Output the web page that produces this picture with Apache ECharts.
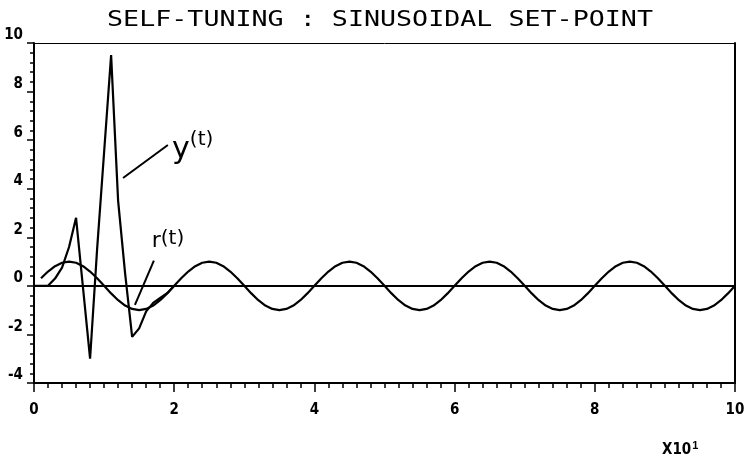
<!DOCTYPE html>
<html><head><meta charset="utf-8">
<script src="https://cdn.jsdelivr.net/npm/echarts@6/dist/echarts.min.js"></script>
<style>html,body{margin:0;padding:0;background:#fff}#c{width:750px;height:465px}</style>
</head><body><div id="c"></div>
<script>
// ---- data ----
const titleText = 'SELF-TUNING : SINUSOIDAL SET-POINT';
const xTickLabels = ['0', '2', '4', '6', '8', '10'];
const yTickLabels = ['-4', '-2', '0', '2', '4', '6', '8', '10'];
const xScaleNote = 'X10';
const xScaleExp = '1';
// set-point r(t), sampled every time unit from t = 1 to t = 100 (axis is in units of 10)
const rStartTime = 1;
const rValues = [
  0.31, 0.59, 0.81, 0.95, 1.00, 0.95, 0.81, 0.59, 0.31, 0.00,
  -0.31, -0.59, -0.81, -0.95, -1.00, -0.95, -0.81, -0.59, -0.31, 0.00,
  0.31, 0.59, 0.81, 0.95, 1.00, 0.95, 0.81, 0.59, 0.31, 0.00,
  -0.31, -0.59, -0.81, -0.95, -1.00, -0.95, -0.81, -0.59, -0.31, 0.00,
  0.31, 0.59, 0.81, 0.95, 1.00, 0.95, 0.81, 0.59, 0.31, 0.00,
  -0.31, -0.59, -0.81, -0.95, -1.00, -0.95, -0.81, -0.59, -0.31, 0.00,
  0.31, 0.59, 0.81, 0.95, 1.00, 0.95, 0.81, 0.59, 0.31, 0.00,
  -0.31, -0.59, -0.81, -0.95, -1.00, -0.95, -0.81, -0.59, -0.31, 0.00,
  0.31, 0.59, 0.81, 0.95, 1.00, 0.95, 0.81, 0.59, 0.31, 0.00,
  -0.31, -0.59, -0.81, -0.95, -1.00, -0.95, -0.81, -0.59, -0.31, 0.00
];
// output y(t) during the start-up transient (afterwards it lies on r(t))
const yTimes  = [0, 1, 2, 3, 4, 5, 6, 7, 8, 9, 10, 11, 12, 13, 14, 15, 16, 17, 18, 19, 20];
const yValues = [0, 0, 0, 0.3, 0.75, 1.6, 2.8, -0.1, -3.0, 1.5, 5.5, 9.5, 3.5, 0.5, -2.1, -1.75, -1.05, -0.7, -0.5, -0.3, 0.0];
// hand-drawn annotations (data coordinates, x in units of 10)
const yLabelLeader = [[1.27, 4.44], [1.91, 5.8]];
const rLabelLeader = [[1.44, -0.78], [1.71, 1.04]];
const yLabelAt = [1.97, 5.75];
const rLabelAt = [1.68, 1.95];

// ---- build ----
const rData = rValues.map((v, i) => [(rStartTime + i) / 10, v]);
const yData = yValues.map((v, i) => [yTimes[i] / 10, v]);

const chart = echarts.init(document.getElementById('c'), null, {renderer: 'canvas'});
const tickFont = {color: '#000', fontSize: 15, fontWeight: 'bold', fontFamily: 'DejaVu Sans Condensed, DejaVu Sans, sans-serif'};
const black = '#000';

chart.setOption({
  backgroundColor: '#fff',
  animation: false,
  grid: {left: 34, right: 15, top: 43, bottom: 82, show: false},
  xAxis: [{
    type: 'value', min: 0, max: 10, interval: 2, position: 'bottom',
    axisLine: {show: true, onZero: false, lineStyle: {color: black, width: 2}},
    axisTick: {show: true, inside: false, length: 9, lineStyle: {color: black, width: 1.5}},
    minorTick: {show: true, splitNumber: 10, length: 5, lineStyle: {color: black, width: 1.5}},
    splitLine: {show: false},
    axisLabel: Object.assign({margin: 20, formatter: v => xTickLabels[Math.round(v / 2)]}, tickFont)
  }, {
    type: 'value', min: 0, max: 10, position: 'top',
    axisLine: {show: true, onZero: false, lineStyle: {color: black, width: 1}},
    axisTick: {show: false}, axisLabel: {show: false}, splitLine: {show: false}
  }],
  yAxis: [{
    type: 'value', min: -4, max: 10, interval: 2, position: 'left',
    axisLine: {show: true, onZero: false, lineStyle: {color: black, width: 2}},
    axisTick: {show: true, inside: false, length: 7, lineStyle: {color: black, width: 1.5}},
    minorTick: {show: true, splitNumber: 5, length: 4, lineStyle: {color: black, width: 1.5}},
    splitLine: {show: false},
    axisLabel: Object.assign({margin: 11, verticalAlign: 'bottom', showMinLabel: true, showMaxLabel: true,
      formatter: v => yTickLabels[Math.round((v + 4) / 2)]}, tickFont)
  }, {
    type: 'value', min: -4, max: 10, position: 'right',
    axisLine: {show: true, onZero: false, lineStyle: {color: black, width: 2}},
    axisTick: {show: false}, axisLabel: {show: false}, splitLine: {show: false}
  }],
  series: [{
    name: 'r(t)', type: 'line', data: rData, showSymbol: false, symbol: 'none',
    lineStyle: {color: black, width: 2.2}, silent: true, z: 3,
    markLine: {
      silent: true, symbol: ['none', 'none'], label: {show: false},
      lineStyle: {color: black, width: 2, type: 'solid'},
      data: [{yAxis: 0}, [{coord: rLabelLeader[0]}, {coord: rLabelLeader[1]}]]
    },
    markPoint: {
      silent: true, symbol: 'circle', symbolSize: 0,
      data: [{coord: rLabelAt}],
      label: {show: true, position: 'right', distance: 0, color: black,
        formatter: '{a|r}{b|(t)}',
        rich: {a: {fontSize: 22, fontFamily: 'DejaVu Sans', padding: [6, 0, 0, 0]},
               b: {fontSize: 20, fontFamily: 'DejaVu Sans'}}}
    }
  }, {
    name: 'y(t)', type: 'line', data: yData, showSymbol: false, symbol: 'none',
    lineStyle: {color: black, width: 2.2}, silent: true, z: 4,
    markLine: {
      silent: true, symbol: ['none', 'none'], label: {show: false},
      lineStyle: {color: black, width: 2, type: 'solid'},
      data: [[{coord: yLabelLeader[0]}, {coord: yLabelLeader[1]}]]
    },
    markPoint: {
      silent: true, symbol: 'circle', symbolSize: 0,
      data: [{coord: yLabelAt}],
      label: {show: true, position: 'right', distance: 0, color: black,
        formatter: '{a|y}{b|(t)}',
        rich: {a: {fontSize: 30, fontFamily: 'DejaVu Sans', padding: [8, 0, 0, 0]},
               b: {fontSize: 20, fontFamily: 'DejaVu Sans', padding: [0, 0, 12, 0]}}}
    }
  }],
  graphic: [{
    type: 'text', x: 380, y: 21, scaleX: 1.27, silent: true,
    style: {text: titleText, font: '21px "DejaVu Sans Mono", monospace', fill: black,
            textAlign: 'center', textVerticalAlign: 'middle'}
  }, {
    type: 'text', x: 662, y: 440, silent: true,
    style: {text: xScaleNote + '{s|' + xScaleExp + '}', fill: black,
            font: 'bold 15px "DejaVu Sans Condensed", "DejaVu Sans", sans-serif',
            textAlign: 'left', textVerticalAlign: 'top',
            rich: {s: {fontSize: 11, fontWeight: 'bold', padding: [0, 0, 10, 1]}}}
  }]
});
</script></body></html>
